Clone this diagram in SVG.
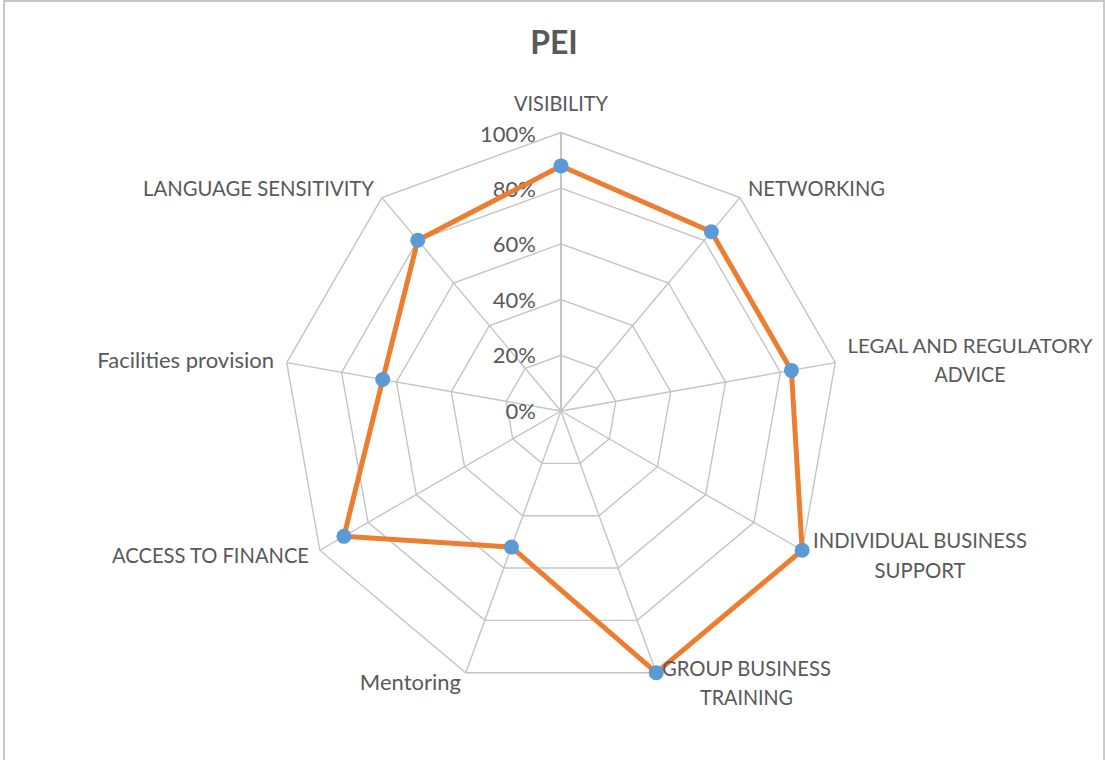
<svg xmlns="http://www.w3.org/2000/svg" width="1106" height="760" viewBox="0 0 1106 760">
<style>
.grid{fill:none;stroke:#c4c4c4;stroke-width:1.4}
.spoke{stroke:#c4c4c4;stroke-width:1.4}
.lbl{font-family:Lato,"Liberation Sans",sans-serif;font-size:22px;fill:#595959}
.pct{font-family:Lato,"Liberation Sans",sans-serif;font-size:22px;fill:#595959;text-anchor:end}
.title{font-family:Lato,"Liberation Sans",sans-serif;font-size:32px;font-weight:bold;fill:#595959;text-anchor:middle}
.series{fill:none;stroke:#ED7D31;stroke-width:5;stroke-linejoin:round}
.dot{fill:#5B9BD5}
</style>
<rect x="4" y="1" width="1100" height="800" fill="#ffffff" stroke="#b8b8b8" stroke-width="1.5"/>
<text id="title" class="title" x="554" y="54">PEI</text>
<g id="grid">
<polygon class="grid" points="561,355.3 596.80,368.33 615.85,401.33 609.24,438.85 580.05,463.34 541.95,463.34 512.76,438.85 506.15,401.33 525.20,368.33"/>
<polygon class="grid" points="561,299.6 632.61,325.66 670.71,391.66 657.48,466.7 599.10,515.68 522.90,515.68 464.52,466.7 451.29,391.66 489.39,325.66"/>
<polygon class="grid" points="561,243.9 668.41,282.99 725.56,381.98 705.71,494.55 618.15,568.02 503.85,568.02 416.29,494.55 396.44,381.98 453.59,282.99"/>
<polygon class="grid" points="561,188.2 704.21,240.32 780.42,372.31 753.95,522.4 637.20,620.36 484.80,620.36 368.05,522.4 341.58,372.31 417.79,240.32"/>
<polygon class="grid" points="561,132.5 740.02,197.66 835.27,362.64 802.19,550.25 656.25,672.70 465.75,672.70 319.81,550.25 286.73,362.64 381.98,197.66"/>
<line class="spoke" x1="561" y1="411" x2="740.02" y2="197.66"/>
<line class="spoke" x1="561" y1="411" x2="835.27" y2="362.64"/>
<line class="spoke" x1="561" y1="411" x2="802.19" y2="550.25"/>
<line class="spoke" x1="561" y1="411" x2="656.25" y2="672.70"/>
<line class="spoke" x1="561" y1="411" x2="465.75" y2="672.70"/>
<line class="spoke" x1="561" y1="411" x2="319.81" y2="550.25"/>
<line class="spoke" x1="561" y1="411" x2="286.73" y2="362.64"/>
<line class="spoke" x1="561" y1="411" x2="381.98" y2="197.66"/>
<line class="spoke" x1="561" y1="411" x2="561" y2="132.5" style="stroke-width:2"/>
</g>
<g id="axis-values">
<text class="pct" x="536" y="142">100%</text>
<text class="pct" x="536" y="197">80%</text>
<text class="pct" x="536" y="252">60%</text>
<text class="pct" x="536" y="308">40%</text>
<text class="pct" x="536" y="363">20%</text>
<text class="pct" x="536" y="419">0%</text>
</g>
<g id="connectors">
<polygon class="series" points="561,165.92 711.37,231.79 791.39,370.38 802.19,550.25 656.25,672.70 511.47,547.09 343.93,536.33 382.72,379.56 417.79,240.32"/>
</g>
<g id="node-visibility"><circle class="dot" cx="561" cy="165.92" r="7.5"/><text class="lbl" x="561" y="111" text-anchor="middle" textLength="94" lengthAdjust="spacingAndGlyphs">VISIBILITY</text></g>
<g id="node-networking"><circle class="dot" cx="711.37" cy="231.79" r="7.5"/><text class="lbl" x="748" y="196" textLength="137" lengthAdjust="spacingAndGlyphs">NETWORKING</text></g>
<g id="node-legal"><circle class="dot" cx="791.39" cy="370.38" r="7.5"/><text class="lbl" x="970" y="353" text-anchor="middle" style="font-size:20px" textLength="245" lengthAdjust="spacingAndGlyphs">LEGAL AND REGULATORY</text><text class="lbl" x="970" y="382" text-anchor="middle" textLength="71" lengthAdjust="spacingAndGlyphs">ADVICE</text></g>
<g id="node-individual"><circle class="dot" cx="802.19" cy="550.25" r="7.5"/><text class="lbl" x="920" y="548" text-anchor="middle" textLength="214" lengthAdjust="spacingAndGlyphs">INDIVIDUAL BUSINESS</text><text class="lbl" x="920" y="578" text-anchor="middle" textLength="91" lengthAdjust="spacingAndGlyphs">SUPPORT</text></g>
<g id="node-group"><circle class="dot" cx="656.25" cy="672.70" r="7.5"/><text class="lbl" x="746.5" y="676" text-anchor="middle" textLength="169" lengthAdjust="spacingAndGlyphs">GROUP BUSINESS</text><text class="lbl" x="746.5" y="705" text-anchor="middle" textLength="93" lengthAdjust="spacingAndGlyphs">TRAINING</text></g>
<g id="node-mentoring"><circle class="dot" cx="511.47" cy="547.09" r="7.5"/><text class="lbl" x="461" y="690" text-anchor="end">Mentoring</text></g>
<g id="node-access"><circle class="dot" cx="343.93" cy="536.33" r="7.5"/><text class="lbl" x="309" y="563" text-anchor="end" textLength="197" lengthAdjust="spacingAndGlyphs">ACCESS TO FINANCE</text></g>
<g id="node-facilities"><circle class="dot" cx="382.72" cy="379.56" r="7.5"/><text class="lbl" x="274" y="368" text-anchor="end">Facilities provision</text></g>
<g id="node-language"><circle class="dot" cx="417.79" cy="240.32" r="7.5"/><text class="lbl" x="374" y="196" text-anchor="end" textLength="231" lengthAdjust="spacingAndGlyphs">LANGUAGE SENSITIVITY</text></g>
</svg>
